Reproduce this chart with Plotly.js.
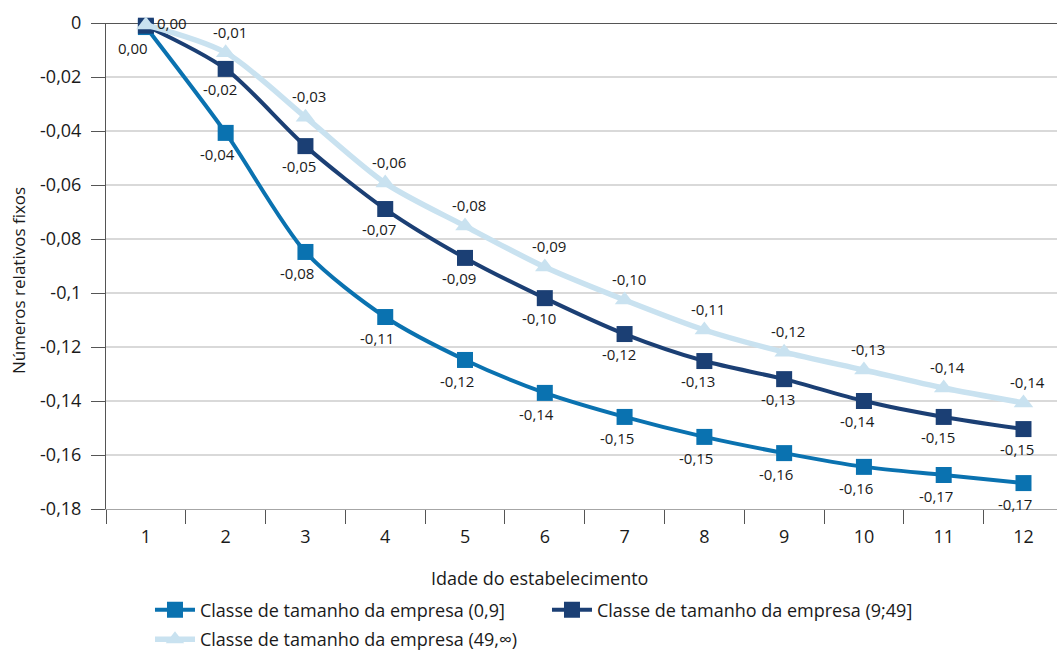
<!DOCTYPE html>
<html>
<head>
<meta charset="utf-8">
<script src="https://cdn.plot.ly/plotly-3.0.1.min.js"></script>
<style>html,body{margin:0;padding:0;background:#fff;}#chart{width:1057px;height:654px;}</style>
</head>
<body>
<div id="chart"></div>
<script>
const categories = ['1','2','3','4','5','6','7','8','9','10','11','12'];
const seriesNames = [
  'Classe de tamanho da empresa (0,9]',
  'Classe de tamanho da empresa (9;49]',
  'Classe de tamanho da empresa (49,\u221E)'
];
const small = [-0.0015, -0.0407, -0.0848, -0.1089, -0.1248, -0.1370, -0.1459, -0.1533, -0.1593, -0.1644, -0.1674, -0.1704];
const medium = [-0.0010, -0.0170, -0.0456, -0.0689, -0.0870, -0.1019, -0.1152, -0.1252, -0.1319, -0.1400, -0.1459, -0.1504];
const large = [-0.0007, -0.0110, -0.0349, -0.0593, -0.0752, -0.0904, -0.1026, -0.1137, -0.1219, -0.1285, -0.1352, -0.1407];
const yTickVals = [0, -0.02, -0.04, -0.06, -0.08, -0.1, -0.12, -0.14, -0.16, -0.18];
const yTickText = ['0', '-0,02', '-0,04', '-0,06', '-0,08', '-0,1', '-0,12', '-0,14', '-0,16', '-0,18'];
const colors = ['#0A72B0', '#1B3F74', '#C9E2F0'];

function fmt(v) {
  return (Math.round(v * 100) / 100).toFixed(2).replace('.', ',');
}
const font = 'Open Sans, Noto Sans, sans-serif';
const textColor = '#1a1a1a';

const traces = [
  {
    x: categories, y: small, name: seriesNames[0], type: 'scatter', mode: 'lines+markers',
    line: {color: colors[0], width: 4, shape: 'spline', smoothing: 0.8},
    marker: {symbol: 'square', size: 16, color: colors[0]},
    cliponaxis: false, legend: 'legend'
  },
  {
    x: categories, y: medium, name: seriesNames[1], type: 'scatter', mode: 'lines+markers',
    line: {color: colors[1], width: 4, shape: 'spline', smoothing: 0.8},
    marker: {symbol: 'square', size: 16, color: colors[1]},
    cliponaxis: false, legend: 'legend'
  },
  {
    x: categories, y: large, name: seriesNames[2], type: 'scatter', mode: 'lines+markers',
    line: {color: colors[2], width: 5.5, shape: 'spline', smoothing: 0.8},
    marker: {symbol: 'triangle-up', size: 17, color: colors[2]},
    cliponaxis: false, legend: 'legend2'
  }
];

// data labels as annotations anchored on the data points (category index on x)
const annotations = [];
function addLabels(values, dx, dy, skipFirst, firstShift) {
  values.forEach((v, i) => {
    if (i === 0 && skipFirst) return;
    let xs = dx, ys = dy;
    if (i === 0 && firstShift) { xs = firstShift[0]; ys = firstShift[1]; }
    annotations.push({
      x: i, y: v, xref: 'x', yref: 'y', text: fmt(v), showarrow: false,
      xanchor: 'center', yanchor: 'middle', xshift: xs, yshift: ys,
      font: {family: font, size: 15, color: textColor}
    });
  });
}
addLabels(small, -8, -21, false, [-13, -21]);
addLabels(medium, -6, -20, false, [26, 3]);
addLabels(large, 4, 21, true, null);

annotations.push(
  {text: 'Idade do estabelecimento', xref: 'paper', yref: 'paper', x: 0.456, y: -0.142,
   xanchor: 'center', yanchor: 'middle', showarrow: false, font: {family: font, size: 18, color: textColor}},
  {text: 'Números relativos fixos', xref: 'paper', yref: 'paper', x: -0.0925, y: 0.469,
   xanchor: 'center', yanchor: 'middle', textangle: -90, showarrow: false, font: {family: font, size: 17, color: textColor}}
);

const layout = {
  width: 1057, height: 654,
  margin: {l: 106, r: 0, t: 23, b: 145},
  paper_bgcolor: '#ffffff', plot_bgcolor: '#ffffff',
  font: {family: font, size: 18, color: textColor},
  showlegend: true,
  xaxis: {
    type: 'category', range: [-0.5, 11.42], automargin: false,
    tickson: 'boundaries', ticks: 'outside', ticklen: 14, tickcolor: '#555555', tickwidth: 1,
    showgrid: false, showline: true, linecolor: '#a6a6a6', linewidth: 1,
    tickfont: {family: font, size: 18, color: textColor}, ticklabelstandoff: 11,
    zeroline: false
  },
  yaxis: {
    range: [-0.18, 0], tickmode: 'array', tickvals: yTickVals, ticktext: yTickText, automargin: false,
    ticks: 'outside', ticklen: 14, tickcolor: '#555555', tickwidth: 1,
    showgrid: true, gridcolor: '#d9d9d9', gridwidth: 1.5,
    showline: true, linecolor: '#555555', linewidth: 1,
    zeroline: true, zerolinecolor: '#555555', zerolinewidth: 1,
    tickfont: {family: font, size: 18, color: textColor}, ticklabelstandoff: 6
  },
  legend: {
    orientation: 'h', xref: 'container', yref: 'container', x: 0.1419, xanchor: 'left', y: 0.0673, yanchor: 'middle',
    itemwidth: 40, entrywidth: 342, entrywidthmode: 'pixels',
    font: {family: font, size: 18, color: textColor}, bgcolor: 'rgba(0,0,0,0)'
  },
  legend2: {
    orientation: 'h', xref: 'container', yref: 'container', x: 0.1419, xanchor: 'left', y: 0.022, yanchor: 'middle',
    itemwidth: 40,
    font: {family: font, size: 18, color: textColor}, bgcolor: 'rgba(0,0,0,0)'
  },
  annotations: annotations
};

Plotly.newPlot('chart', traces, layout, {displayModeBar: false, staticPlot: true});
</script>
</body>
</html>
